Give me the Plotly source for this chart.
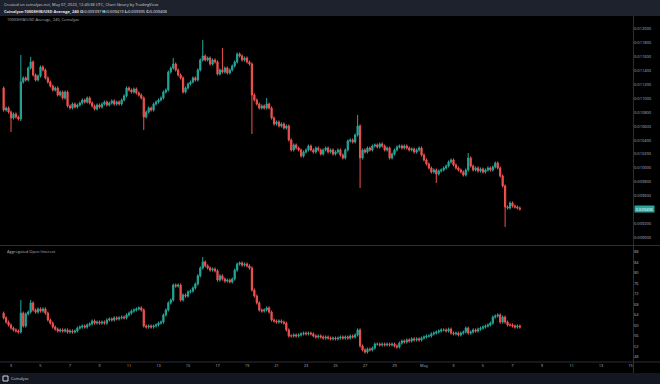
import pandas as pd
import plotly.graph_objects as go

# ---------------- data ----------------
bar_times = pd.date_range("2023-04-02 12:00", periods=211, freq="4h")

price_first_open = 0.011150
price_close = [
    0.010833, 0.010862, 0.010804, 0.010718, 0.010776, 0.010732, 0.010704, 0.011236, 0.011294, 0.011265,
    0.011437, 0.011524, 0.011337, 0.011265, 0.011322, 0.011452, 0.011409, 0.011294, 0.011236, 0.011178,
    0.011121, 0.011150, 0.011049, 0.011092, 0.011006, 0.011092, 0.010891, 0.010862, 0.010919, 0.010876,
    0.010905, 0.010934, 0.010977, 0.010948, 0.011006, 0.010934, 0.010891, 0.010848, 0.010905, 0.010876,
    0.010919, 0.010948, 0.010905, 0.010934, 0.010963, 0.010919, 0.010948, 0.010919, 0.010977, 0.011035,
    0.011150, 0.011121, 0.011092, 0.011135, 0.011078, 0.011049, 0.011006, 0.010732, 0.010804, 0.010862,
    0.010833, 0.010919, 0.010948, 0.010977, 0.011006, 0.011092, 0.011121, 0.011380, 0.011437, 0.011495,
    0.011409, 0.011337, 0.011294, 0.011092, 0.011150, 0.011207, 0.011236, 0.011294, 0.011265, 0.011409,
    0.011553, 0.011610, 0.011553, 0.011581, 0.011495, 0.011553, 0.011524, 0.011351, 0.011409, 0.011380,
    0.011437, 0.011366, 0.011409, 0.011466, 0.011524, 0.011639, 0.011610, 0.011553, 0.011581, 0.011524,
    0.011495, 0.011049, 0.010977, 0.010919, 0.010862, 0.010891, 0.010862, 0.010919, 0.010862, 0.010718,
    0.010632, 0.010660, 0.010603, 0.010632, 0.010574, 0.010603, 0.010402, 0.010258, 0.010330, 0.010286,
    0.010258, 0.010171, 0.010229, 0.010258, 0.010315, 0.010258, 0.010229, 0.010286, 0.010258, 0.010200,
    0.010258, 0.010286, 0.010229, 0.010258, 0.010200, 0.010229, 0.010258, 0.010186, 0.010143, 0.010258,
    0.010387, 0.010402, 0.010373, 0.010473, 0.010603, 0.010143, 0.010258, 0.010229, 0.010286, 0.010258,
    0.010315, 0.010330, 0.010301, 0.010344, 0.010315, 0.010258, 0.010286, 0.010143, 0.010200, 0.010258,
    0.010301, 0.010315, 0.010286, 0.010315, 0.010286, 0.010258, 0.010272, 0.010229, 0.010258, 0.010286,
    0.010186, 0.010114, 0.010056, 0.009999, 0.009941, 0.009970, 0.009912, 0.009955, 0.009970, 0.009999,
    0.010027, 0.010085, 0.010114, 0.010042, 0.009999, 0.009970, 0.009941, 0.009898, 0.009970, 0.010143,
    0.010027, 0.009970, 0.009999, 0.009955, 0.009984, 0.009941, 0.009970, 0.009999, 0.009970, 0.010013,
    0.010071, 0.009999, 0.009884, 0.009740, 0.009438, 0.009423, 0.009495, 0.009452, 0.009438, 0.009423,
    0.009408,
]
# notable wicks: bar index -> (high, low); None keeps the body edge
price_wicks = {
    3: (None, 0.010516), 7: (0.011624, 0.010675), 11: (0.011596, None), 57: (None, 0.010545),
    69: (0.011581, None), 81: (0.011840, None), 89: (0.011725, None), 101: (None, 0.010488),
    107: (0.011006, None), 144: (0.010761, None), 145: (None, 0.009711), 176: (None, 0.009783),
    189: (0.010214, None), 204: (None, 0.009150),
}

oi_first_open = 64.7  # millions
oi_close = [
    62.9, 61.3, 60.2, 59.0, 58.3, 57.9, 57.5, 64.7, 59.8, 64.4,
    65.1, 68.6, 65.9, 65.1, 66.3, 65.5, 66.3, 64.7, 62.1, 60.9,
    59.4, 58.6, 57.9, 58.3, 57.9, 58.3, 57.5, 57.9, 57.5, 57.9,
    59.0, 59.4, 59.8, 59.4, 60.2, 60.6, 61.7, 60.9, 61.3, 60.9,
    61.3, 60.9, 62.1, 62.5, 62.1, 62.9, 62.5, 62.9, 63.2, 62.9,
    64.0, 64.7, 65.5, 65.9, 66.3, 66.7, 65.9, 59.8, 59.4, 59.8,
    59.4, 59.8, 60.2, 60.9, 61.3, 64.0, 65.9, 68.6, 69.7, 75.4,
    75.0, 75.4, 69.7, 71.6, 71.2, 72.8, 73.1, 74.3, 75.8, 78.9,
    81.9, 84.2, 82.7, 81.9, 81.1, 81.5, 80.8, 77.3, 78.9, 77.7,
    76.9, 77.3, 76.6, 77.7, 81.1, 83.4, 83.8, 83.0, 83.4, 82.7,
    81.9, 73.5, 71.2, 68.6, 65.9, 65.5, 65.9, 66.7, 65.1, 62.1,
    61.7, 61.3, 61.7, 61.3, 60.9, 58.3, 56.0, 56.0, 56.4, 56.0,
    56.4, 56.8, 57.1, 56.8, 57.1, 56.8, 56.0, 55.6, 56.0, 55.6,
    55.2, 55.6, 55.2, 54.9, 55.2, 54.9, 55.2, 55.6, 55.2, 55.6,
    55.2, 56.0, 55.6, 56.4, 58.3, 52.2, 50.7, 49.9, 51.0, 50.7,
    51.4, 52.9, 52.9, 52.6, 52.9, 52.6, 52.9, 52.6, 52.9, 52.2,
    51.8, 53.3, 54.1, 53.7, 54.5, 54.1, 54.9, 54.5, 54.9, 54.5,
    55.2, 55.6, 56.0, 56.0, 56.8, 57.1, 57.5, 57.9, 58.3, 58.3,
    57.9, 58.6, 57.1, 56.8, 57.1, 56.4, 57.1, 57.5, 59.0, 57.1,
    57.5, 58.3, 57.9, 58.6, 59.0, 59.4, 59.8, 60.2, 60.9, 63.2,
    63.6, 64.0, 61.3, 63.2, 61.3, 60.2, 60.2, 59.8, 59.4, 59.8,
    59.4,
]
oi_wicks = {7: (69.7, None), 11: (69.7, None), 81: (86.1, None)}

price_ticks = [0.0122, 0.0120, 0.0118, 0.0116, 0.0114, 0.0112, 0.0110, 0.0108, 0.0106,
               0.0104, 0.0102, 0.0100, 0.0098, 0.0096, 0.0092, 0.0090]
oi_ticks = [88, 84, 80, 76, 72, 68, 64, 60, 56, 52, 48]
day_ticks = ["2023-04-03", "2023-04-05", "2023-04-07", "2023-04-09", "2023-04-11", "2023-04-13",
             "2023-04-15", "2023-04-17", "2023-04-19", "2023-04-21", "2023-04-23", "2023-04-25",
             "2023-04-27", "2023-04-29", "2023-05-01", "2023-05-03", "2023-05-05", "2023-05-07",
             "2023-05-09", "2023-05-11", "2023-05-13", "2023-05-15"]
day_labels = ["3", "5", "7", "9", "11", "13", "15", "17", "19", "21", "23", "25", "27", "29",
              "May", "3", "5", "7", "9", "11", "13", "15"]
last_price = 0.009408

# ---------------- style ----------------
UP = "#26a69a"
DOWN = "#ef5350"
TXT = "#b2b5be"
FONT = "Open Sans, Roboto, sans-serif"
W, H = 660, 384
wick_pad_price = 0.000022
wick_pad_oi = 0.6


def ohlc(first_open, closes, wicks, pad):
    opens = [first_open] + closes[:-1]
    highs, lows = [], []
    for i, (o, c) in enumerate(zip(opens, closes)):
        hi, lo = max(o, c) + pad, min(o, c) - pad
        if i in wicks:
            wh, wl = wicks[i]
            if wh is not None:
                hi = wh
            if wl is not None:
                lo = wl
        highs.append(hi)
        lows.append(lo)
    return opens, highs, lows


po, ph, pl = ohlc(price_first_open, price_close, price_wicks, wick_pad_price)
oo, oh, ol = ohlc(oi_first_open, oi_close, oi_wicks, wick_pad_oi)

fig = go.Figure()
fig.add_trace(go.Candlestick(
    x=bar_times, open=po, high=ph, low=pl, close=price_close,
    xaxis="x", yaxis="y",
    increasing=dict(line=dict(color=UP, width=1), fillcolor=UP),
    decreasing=dict(line=dict(color=DOWN, width=1), fillcolor=DOWN),
    whiskerwidth=0, hoverinfo="skip",
))
fig.add_trace(go.Candlestick(
    x=bar_times, open=oo, high=oh, low=ol, close=oi_close,
    xaxis="x2", yaxis="y2",
    increasing=dict(line=dict(color=UP, width=1), fillcolor=UP),
    decreasing=dict(line=dict(color=DOWN, width=1), fillcolor=DOWN),
    whiskerwidth=0, hoverinfo="skip",
))

xr = ["2023-04-02 06:06", "2023-05-15 04:05"]
xdom = [0, 633 / W]

def py(px):  # pixel row -> paper fraction
    return 1 - px / H

fig.update_layout(
    width=W, height=H, margin=dict(l=0, r=0, t=0, b=0),
    paper_bgcolor="#000000", plot_bgcolor="#000000", showlegend=False,
    font=dict(family=FONT, size=4, color=TXT),
    xaxis=dict(domain=xdom, range=xr, anchor="y", showticklabels=False, showgrid=False,
               zeroline=False, rangeslider=dict(visible=False), type="date", showline=False),
    xaxis2=dict(domain=xdom, range=xr, anchor="y2", matches="x", showgrid=False, zeroline=False,
                rangeslider=dict(visible=False), type="date", tickvals=day_ticks, ticktext=day_labels,
                tickfont=dict(size=4, color=TXT), ticks="", showline=False),
    yaxis=dict(domain=[py(245), py(16)], range=[0.0088907, 0.0121856], side="right", anchor="x",
               tickvals=price_ticks, tickformat=".6f", showgrid=False, zeroline=False,
               tickfont=dict(size=4, color=TXT), ticks="", showline=False),
    yaxis2=dict(domain=[py(362), py(246)], range=[46.09, 90.28], side="right", anchor="x2",
                tickvals=oi_ticks, ticksuffix="M", showgrid=False, zeroline=False,
                tickfont=dict(size=4, color=TXT), ticks="", showline=False),
)

LINE = "#2a2e39"
shapes = [
    dict(type="rect", xref="paper", yref="paper", x0=0, x1=1, y0=py(16), y1=1,
         fillcolor="#1e222d", line=dict(width=0), layer="below"),
    dict(type="rect", xref="paper", yref="paper", x0=0, x1=1, y0=0, y1=py(373),
         fillcolor="#131722", line=dict(width=0), layer="below"),
    dict(type="line", xref="paper", yref="paper", x0=0, x1=1, y0=py(245.5), y1=py(245.5),
         line=dict(color=LINE, width=1)),
    dict(type="line", xref="paper", yref="paper", x0=0, x1=1, y0=py(362), y1=py(362),
         line=dict(color=LINE, width=1)),
    dict(type="line", xref="paper", yref="paper", x0=633.5 / W, x1=633.5 / W, y0=py(373), y1=py(16),
         line=dict(color=LINE, width=1)),
]
fig.update_layout(shapes=shapes)

ann = [
    dict(xref="paper", yref="paper", x=2 / W, y=py(4.5), xanchor="left", yanchor="middle", showarrow=False,
         text="Created on coinalyze.net, May 07, 2023, 12:40:38 UTC, Chart library by TradingView",
         font=dict(size=4, color="#d1d4dc")),
    dict(xref="paper", yref="paper", x=2 / W, y=py(11), xanchor="left", yanchor="middle", showarrow=False,
         text="<b>Coinalyze:1000SHIB/USD Average, 240 O:</b>0.009397 <b>H:</b>0.009419 <b>L:</b>0.009395 <b>C:</b>0.009408",
         font=dict(size=4, color="#e0e3eb")),
    dict(xref="paper", yref="paper", x=5 / W, y=py(19.5), xanchor="left", yanchor="middle", showarrow=False,
         text="1000SHIB/USD Average, 240, Coinalyze", font=dict(size=4, color=TXT)),
    dict(xref="paper", yref="paper", x=5 / W, y=py(251.5), xanchor="left", yanchor="middle", showarrow=False,
         text="Aggregated Open Interest", font=dict(size=4, color=TXT)),
    dict(xref="paper", yref="y", x=634 / W, y=last_price, xanchor="left", yanchor="middle", showarrow=False,
         text="%.6f" % last_price, bgcolor=UP, borderpad=0.5, font=dict(size=4, color="#ffffff")),
    dict(xref="paper", yref="paper", x=9 / W, y=py(378.5), xanchor="left", yanchor="middle", showarrow=False,
         text="Coinalyze", font=dict(size=4, color="#d1d4dc")),
]
fig.update_layout(annotations=ann)
fig.add_shape(type="rect", xref="paper", yref="paper", x0=3 / W, x1=8 / W, y0=py(381), y1=py(376),
              line=dict(color="#d1d4dc", width=1))

fig.write_html(
    "out.html",
    config={"displayModeBar": False, "staticPlot": True},
    post_script="document.body.style.margin='0';document.body.style.overflow='hidden';",
)
